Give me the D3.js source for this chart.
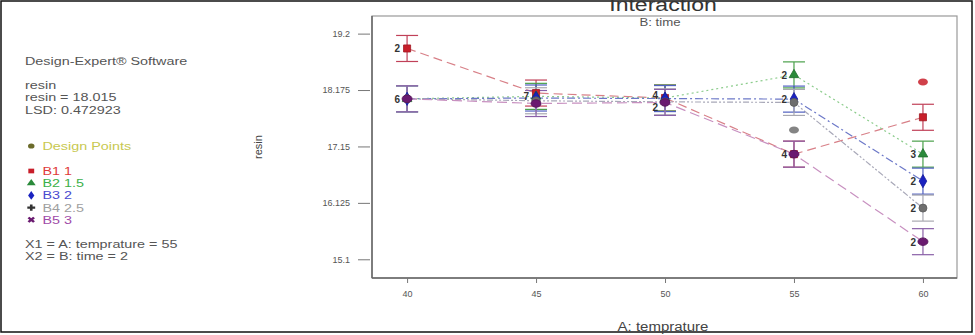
<!DOCTYPE html>
<html>
<head>
<meta charset="utf-8">
<script src="https://cdn.jsdelivr.net/npm/d3@7"></script>
<style>
  body { margin: 0; background: #fff; }
  svg { display: block; font-family: "Liberation Sans", Arial, sans-serif; }
</style>
</head>
<body>
<script>
// chart data
var temps = [40, 45, 50, 55, 60];
var seriesNames = ["B1 1", "B2 1.5", "B3 2", "B4 2.5", "B5 3"];
var b1 = [18.93, 18.12, 18.03, 17.01, 17.68];
var b2 = [18.015, 18.06, 18.03, 18.45, 17.01];
var b3 = [18.015, 18.03, 18.02, 18.01, 16.52];
var b4 = [18.015, 17.98, 17.96, 17.95, 16.03];
var b5 = [18.015, 17.93, 17.95, 17.01, 15.42];
var lsd = 0.472923;
var yTicks = [15.1, 16.125, 17.15, 18.175, 19.2];
// extra design points (temp, value, series index)
var designPts = [[60, 18.32, 0], [55, 17.45, 3]];
// replicate counts shown next to points (temp, value, text)
var countLabels = [
  [40, 18.93, "2"], [40, 18.015, "6"], [45, 18.06, "7"],
  [50, 18.09, "4"], [50, 17.87, "2"],
  [55, 18.45, "2"], [55, 18.01, "2"], [55, 17.01, "4"],
  [60, 17.01, "3"], [60, 16.52, "2"], [60, 16.03, "2"], [60, 15.42, "2"]
];
var infoLines = ["resin", "resin = 18.015", "LSD: 0.472923"];
var factorLines = ["X1 = A: temprature = 55", "X2 = B: time = 2"];

function main() {
  var width = 975, height = 335;
  var svg = d3.select("body").append("svg")
    .attr("width", width).attr("height", height);

  var series = [b1, b2, b3, b4, b5];
  var markColor = ["#c81e2a", "#2a8a3a", "#1a22c0", "#6e6e6e", "#6a1a70"];
  var lineColor = ["#d88088", "#8ccc8c", "#6c78c8", "#a8a8b8", "#c890c0"];
  var barColor = ["#c04058", "#4aa04a", "#5060c0", "#a8a8b0", "#8a60a8"];
  var textColor = ["#e03a3a", "#3cb04a", "#4a4ad0", "#a0a0a0", "#a04aa8"];
  var dashes = ["9,5", "2,3", "8,3,2,3", "6,2,2,2,2,2", "10,5"];
  var symbols = [d3.symbolSquare, d3.symbolTriangle, d3.symbolDiamond, d3.symbolCircle, d3.symbolCircle];

  var left = 372, right = 957, top = 16, bottom = 278;
  var x = d3.scaleLinear().domain([38.64, 61.32]).range([left, right]);
  var y = d3.scaleLinear().domain([14.76, 19.52]).range([bottom, top]);

  // outer frame
  svg.append("rect").attr("x", 1).attr("y", 1).attr("width", 971).attr("height", 331)
    .attr("fill", "none").attr("stroke", "#111").attr("stroke-width", 1.5);

  // the source image is stretched sideways, so text gets scaled in x
  function wide(sel, cx, cy, sx) {
    return sel.attr("transform", "translate(" + cx + "," + cy + ") scale(" + sx + ",1)");
  }

  // title
  wide(svg.append("text"), 663, 11, 1.28).attr("text-anchor", "middle")
    .attr("font-size", 18).attr("fill", "#333").text("Interaction");
  wide(svg.append("text"), 660, 26, 1.2).attr("text-anchor", "middle")
    .attr("font-size", 11).attr("fill", "#555").text("B: time");

  // plot box
  svg.append("rect").attr("x", left).attr("y", top)
    .attr("width", right - left).attr("height", bottom - top)
    .attr("fill", "none").attr("stroke", "#999").attr("stroke-width", 1.2);
  svg.append("line").attr("x1", left).attr("x2", left).attr("y1", top).attr("y2", bottom)
    .attr("stroke", "#666").attr("stroke-width", 1.5);
  svg.append("line").attr("x1", left).attr("x2", right).attr("y1", bottom).attr("y2", bottom)
    .attr("stroke", "#666").attr("stroke-width", 1.5);

  // axes
  var yAxis = svg.append("g").attr("transform", "translate(" + (left - 2) + ",0)")
    .call(d3.axisLeft(y).tickValues(yTicks).tickFormat(d3.format("")).tickSize(12).tickPadding(8));
  yAxis.select(".domain").remove();
  yAxis.selectAll("line").attr("stroke", "#777");
  yAxis.selectAll("text").attr("font-size", 9).attr("fill", "#555")
    .attr("font-family", "Liberation Sans, Arial, sans-serif");

  var xAxis = svg.append("g").attr("transform", "translate(0," + bottom + ")")
    .call(d3.axisBottom(x).tickValues(temps).tickSize(5).tickPadding(8));
  xAxis.select(".domain").remove();
  xAxis.selectAll("line").attr("stroke", "#777");
  xAxis.selectAll("text").attr("font-size", 9).attr("fill", "#555")
    .attr("font-family", "Liberation Sans, Arial, sans-serif");

  wide(svg.append("text"), 663, 331, 1.25).attr("text-anchor", "middle")
    .attr("font-size", 12).attr("fill", "#444").text("A: temprature");
  svg.append("text").attr("transform", "translate(262,147) rotate(-90)")
    .attr("text-anchor", "middle").attr("font-size", 11).attr("fill", "#444").text("resin");

  // lines
  var line = d3.line().x(function(d, i) { return x(temps[i]); }).y(function(d) { return y(d); });
  series.forEach(function(s, k) {
    svg.append("path").datum(s).attr("d", line)
      .attr("fill", "none").attr("stroke", lineColor[k]).attr("stroke-width", 1.2)
      .attr("stroke-dasharray", dashes[k]);
  });

  // LSD bars
  var half = lsd / 2, cap = 11;
  series.forEach(function(s, k) {
    var g = svg.append("g").attr("stroke", barColor[k]).attr("stroke-width", 1.2);
    s.forEach(function(v, i) {
      var cx = x(temps[i]);
      g.append("line").attr("x1", cx).attr("x2", cx).attr("y1", y(v + half)).attr("y2", y(v - half));
      g.append("line").attr("x1", cx - cap).attr("x2", cx + cap).attr("y1", y(v + half)).attr("y2", y(v + half));
      g.append("line").attr("x1", cx - cap).attr("x2", cx + cap).attr("y1", y(v - half)).attr("y2", y(v - half));
    });
  });

  // design points
  designPts.forEach(function(p) {
    svg.append("ellipse").attr("cx", x(p[0])).attr("cy", y(p[1])).attr("rx", 5).attr("ry", 3.5)
      .attr("fill", markColor[p[2]]).attr("opacity", 0.85);
  });

  // markers
  series.forEach(function(s, k) {
    svg.append("g").selectAll("path").data(s).join("path")
      .attr("transform", function(d, i) {
        return "translate(" + x(temps[i]) + "," + y(d) + ")" + (k === 4 ? " scale(1.25,0.95)" : "");
      })
      .attr("d", d3.symbol().type(symbols[k]).size(k === 1 ? 40 : 50))
      .attr("fill", markColor[k]).attr("stroke", d3.color(markColor[k]).darker(0.6)).attr("stroke-width", 0.8);
  });

  // counts
  svg.append("g").selectAll("text").data(countLabels).join("text")
    .attr("x", function(d) { return x(d[0]) - 7; })
    .attr("y", function(d) { return y(d[1]) + 4; })
    .attr("text-anchor", "end").attr("font-size", 10).attr("font-weight", "bold").attr("fill", "#333")
    .text(function(d) { return d[2]; });

  // left panel text (stretched sideways like the source)
  var panel = svg.append("g").attr("transform", "translate(25,0) scale(1.25,1)")
    .attr("font-size", 11.5);
  panel.append("text").attr("x", 0).attr("y", 65).attr("fill", "#555").text("Design-Expert\u00ae Software");
  panel.selectAll(".i").data(infoLines).join("text").attr("class", "i").attr("fill", "#555")
    .attr("x", 0).attr("y", function(d, i) { return 89 + i * 12.5; }).text(function(d) { return d; });

  panel.append("circle").attr("cx", 5).attr("cy", 146).attr("r", 2.6).attr("fill", "#6b6b2a");
  panel.append("text").attr("x", 14).attr("y", 150).attr("fill", "#c8c850").text("Design Points");

  seriesNames.forEach(function(n, k) {
    var yy = 171 + k * 12.2;
    var sym = [d3.symbolSquare, d3.symbolTriangle, d3.symbolDiamond, d3.symbolCross, d3.symbolCross][k];
    panel.append("path")
      .attr("d", d3.symbol().type(sym).size(22))
      .attr("fill", k === 3 ? "#333" : markColor[k])
      .attr("transform", "translate(5," + yy + ")" + (k === 4 ? " rotate(45)" : ""));
    panel.append("text").attr("x", 14).attr("y", yy + 4).attr("fill", textColor[k]).text(n);
  });

  panel.selectAll(".f").data(factorLines).join("text").attr("class", "f").attr("fill", "#555")
    .attr("x", 0).attr("y", function(d, i) { return 248 + i * 12.5; }).text(function(d) { return d; });
}
main();
</script>
</body>
</html>
